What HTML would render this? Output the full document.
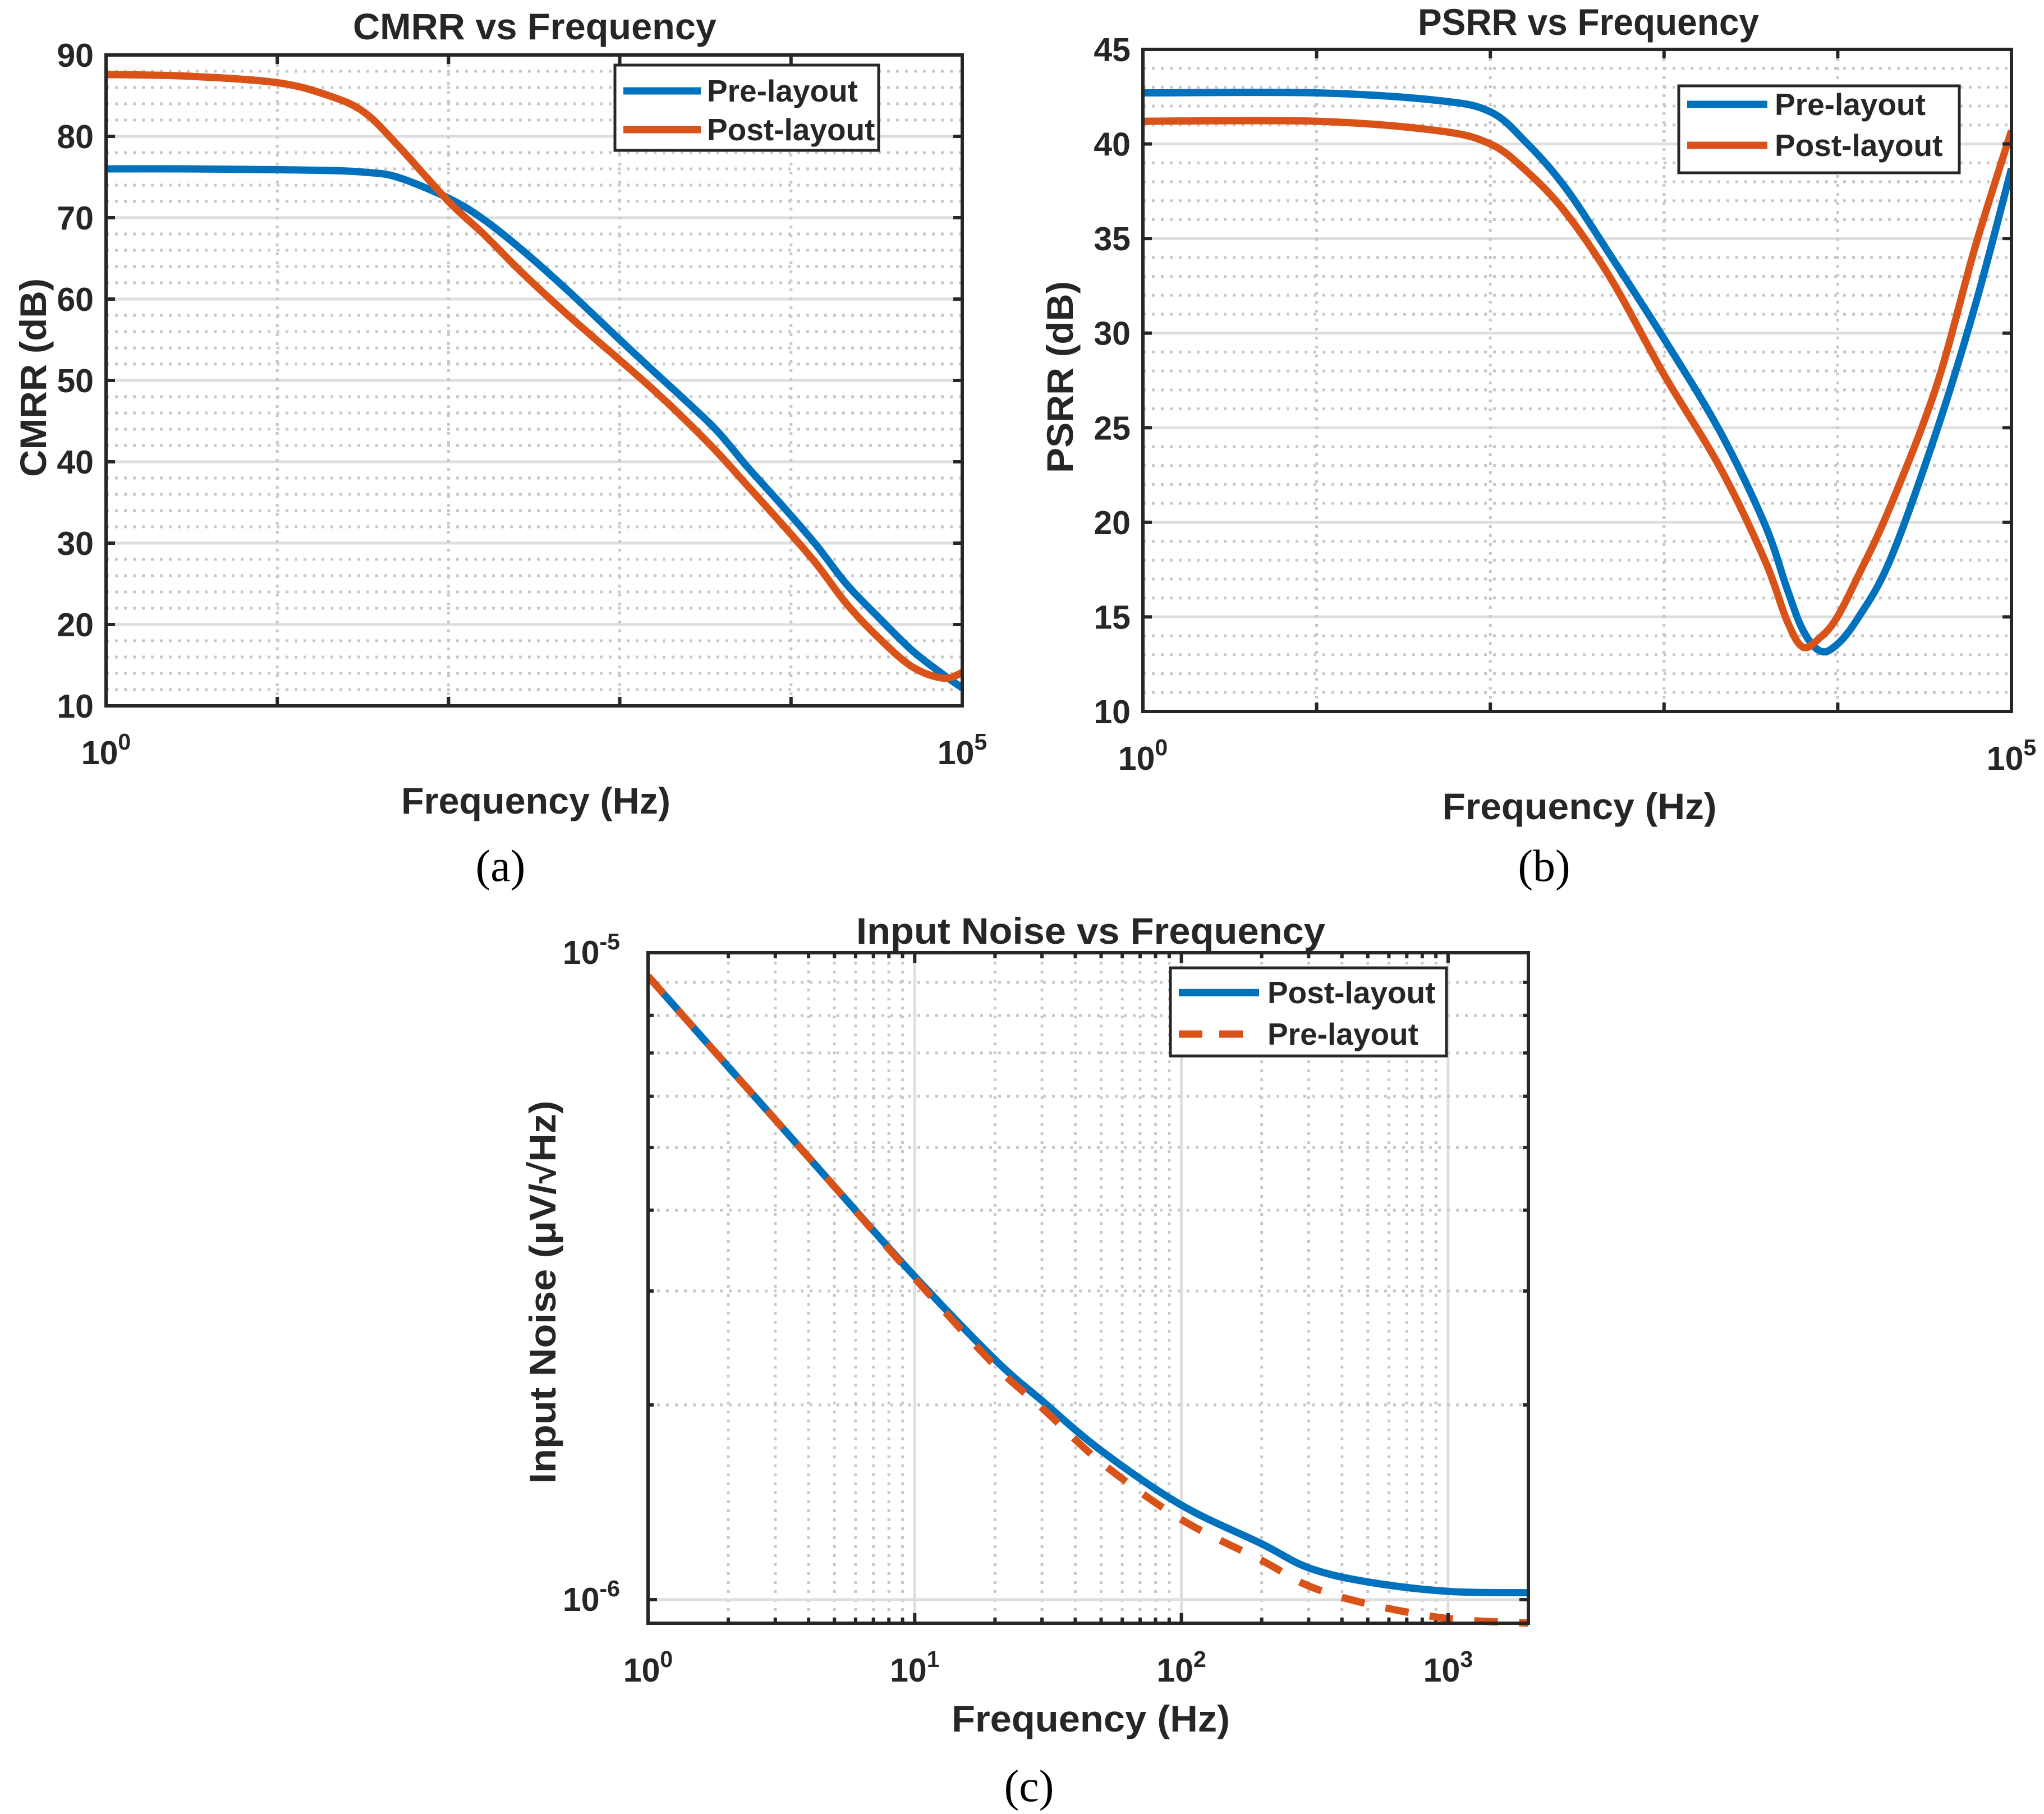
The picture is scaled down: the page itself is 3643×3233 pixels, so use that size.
<!DOCTYPE html>
<html><head><meta charset="utf-8"><style>
html,body{margin:0;padding:0;background:#fff;}
svg{display:block;}
text{font-family:"Liberation Sans",sans-serif;font-weight:bold;fill:#262626;}
.cap{font-family:"Liberation Serif",serif;font-weight:normal;fill:#000;}
</style></head><body>
<svg id="chart" width="3643" height="3233" viewBox="0 0 3643 3233" xmlns="http://www.w3.org/2000/svg"></svg>
<script>
// ---- data: CMRR (a)
const cmrrFreq = [1,3,10,20,32,50,100,160,270,500,1000,1600,2400,3700,5600,8900,14000,21000,32000,51000,78000,100000];
const cmrrPre  = [76,76,75.9,75.8,75.6,75,72.4,69.8,66,61,55,51,47.6,43.8,39.3,34.6,29.8,25,21,16.8,13.8,12.2];
const cmrrPost = [87.6,87.4,86.6,85,83,79,72,68,63.2,58,52.5,48.7,45.2,41.2,37,32.3,27.5,22.6,18.5,14.8,13.4,14.1];
const cmrrYTicks = [10,20,30,40,50,60,70,80,90];
// ---- data: PSRR (b)
const psrrFreq = [1,10,50,100,160,270,500,1000,2100,3800,5100,6300,7900,9800,13000,20000,37000,62000,100000];
const psrrPre  = [42.7,42.7,42.3,41.7,40.1,37.7,34,29.7,24.8,19.9,16.5,14.3,13.2,13.5,14.9,18,24.8,31.5,38.7];
const psrrPost = [41.2,41.2,40.7,40,38.6,36.4,32.8,27.8,22.9,18,14.8,13.4,13.9,14.9,17.1,20.8,27.2,34.6,40.7];
const psrrYTicks = [10,15,20,25,30,35,40,45];
// ---- data: Input noise (c)
const noiseFreq = [1,2,3,5,10,20,30,50,100,200,300,500,1000,2000];
const noisePost = [9.2e-6,6.66e-6,5.52e-6,4.35e-6,3.16e-6,2.35e-6,2.03e-6,1.7e-6,1.4e-6,1.22e-6,1.12e-6,1.065e-6,1.03e-6,1.025e-6];
const noisePre  = [9.2e-6,6.66e-6,5.52e-6,4.35e-6,3.14e-6,2.3e-6,1.98e-6,1.63e-6,1.33e-6,1.15e-6,1.05e-6,0.985e-6,0.935e-6,0.92e-6];

const NS = 'http://www.w3.org/2000/svg';
const svg = document.getElementById('chart');
const BLUE = '#0072BD', ORANGE = '#D95319', AX = '#262626';
function mk(tag, attrs, parent){ const e = document.createElementNS(NS, tag); for (const k in attrs) e.setAttribute(k, attrs[k]); (parent||svg).appendChild(e); return e; }
function txt(s, attrs, parent){ const t = mk('text', attrs, parent); t.textContent = s; return t; }
function pow10(parent, x, y, base, exp, anchor, size){
  const t = mk('text', {x:x, y:y, 'text-anchor':anchor, 'font-size':size}, parent);
  const a = mk('tspan', {}, t); a.textContent = base;
  const b = mk('tspan', {dy:-26, 'font-size':Math.round(size*0.7)}, t); b.textContent = exp;
  return t;
}
function smooth(pts){
  let d = 'M' + pts[0][0] + ',' + pts[0][1];
  for (let i = 0; i < pts.length - 1; i++){
    const p0 = pts[Math.max(0, i-1)], p1 = pts[i], p2 = pts[i+1], p3 = pts[Math.min(pts.length-1, i+2)];
    const c1x = p1[0] + (p2[0]-p0[0])/6, c1y = p1[1] + (p2[1]-p0[1])/6;
    const c2x = p2[0] - (p3[0]-p1[0])/6, c2y = p2[1] - (p3[1]-p1[1])/6;
    d += ' C' + c1x + ',' + c1y + ' ' + c2x + ',' + c2y + ' ' + p2[0] + ',' + p2[1];
  }
  return d;
}

function linAxes(id, L, R, T, B, xDec, yMin, yMax, yTicks, yMinorStep, xs, seriesA, seriesB, names, titleText, ylab, legend, titlePos, xlabPos, ylabPos, capText, capPos, lens){
  const g = mk('g', {});
  
  
  const px = f => L + Math.log10(f) / xDec * (R - L);
  const py = v => B - (v - yMin) / (yMax - yMin) * (B - T);
  for (let v = yMin; v <= yMax + 1e-9; v += yMinorStep){
    if (yTicks.some(t => Math.abs(t - v) < 1e-6)) continue;
    const l = mk('line', {x1:L, x2:R, y1:py(v), y2:py(v), stroke:'#c8c8c8', 'stroke-width':5, 'stroke-dasharray':'5 11'}, g);
    
    
  }
  for (const v of yTicks){
    if (v === yMin || v === yMax) continue;
    const l = mk('line', {x1:L, x2:R, y1:py(v), y2:py(v), stroke:'#dedede', 'stroke-width':5}, g);
    
    
  }
  for (let d = 1; d < xDec; d++){
    const x = px(Math.pow(10, d));
    const l = mk('line', {x1:x, x2:x, y1:T, y2:B, stroke:'#c8c8c8', 'stroke-width':5, 'stroke-dasharray':'5 11'}, g);
    
    
  }
  const cp = mk('clipPath', {id:'clip-' + id}, g);
  mk('rect', {x:L, y:T, width:R - L, height:B - T}, cp);
  const sA = mk('path', {d: smooth(xs.map((f,i) => [px(f), py(seriesA[i])])), fill:'none', stroke:BLUE, 'stroke-width':13, 'stroke-linejoin':'round', 'clip-path':'url(#clip-' + id + ')'}, g);
  
  
  const sB = mk('path', {d: smooth(xs.map((f,i) => [px(f), py(seriesB[i])])), fill:'none', stroke:ORANGE, 'stroke-width':13, 'stroke-linejoin':'round', 'clip-path':'url(#clip-' + id + ')'}, g);
  
  
  for (const v of yTicks){
    const y = py(v);
    mk('line', {x1:L, x2:L + 16, y1:y, y2:y, stroke:AX, 'stroke-width':6}, g);
    mk('line', {x1:R - 16, x2:R, y1:y, y2:y, stroke:AX, 'stroke-width':6}, g);
    const t = txt(String(v), {x:L - 22, y:y + 21, 'text-anchor':'end', 'font-size':59}, g);
    
    
  }
  for (let d = 0; d <= xDec; d++){
    const x = px(Math.pow(10, d));
    mk('line', {x1:x, x2:x, y1:B, y2:B - 16, stroke:AX, 'stroke-width':6}, g);
    mk('line', {x1:x, x2:x, y1:T, y2:T + 16, stroke:AX, 'stroke-width':6}, g);
  }
  const t0 = pow10(g, L, B + 104, '10', '0', 'middle', 59);
  
  
  const t1 = pow10(g, R, B + 104, '10', String(xDec), 'middle', 59);
  
  
  const box = mk('rect', {x:L, y:T, width:R - L, height:B - T, fill:'none', stroke:AX, 'stroke-width':6}, g);
  
  
  const ti = txt(titleText, {x:titlePos[0], y:titlePos[1], 'text-anchor':'middle', 'font-size':66, textLength:lens[0], lengthAdjust:'spacingAndGlyphs'}, g);
  
  
  const xl = txt('Frequency (Hz)', {x:xlabPos[0], y:xlabPos[1], 'text-anchor':'middle', 'font-size':66, textLength:lens[1], lengthAdjust:'spacingAndGlyphs'}, g);
  
  
  const yl = txt(ylab, {x:0, y:0, 'text-anchor':'middle', 'font-size':66, textLength:lens[2], lengthAdjust:'spacingAndGlyphs', transform:'translate(' + ylabPos[0] + ',' + ylabPos[1] + ') rotate(-90)'}, g);
  
  
  const cap = txt(capText, {x:capPos[0], y:capPos[1], 'text-anchor':'middle', 'font-size':80, class:'cap'}, g);
  
  
  const lg = mk('g', {}, g);
  
  
  mk('rect', {x:legend.x, y:legend.y, width:legend.w, height:legend.h, fill:'#fff', stroke:AX, 'stroke-width':5}, lg);
  mk('line', {x1:legend.lx1, x2:legend.lx2, y1:legend.r1, y2:legend.r1, stroke:BLUE, 'stroke-width':13}, lg);
  mk('line', {x1:legend.lx1, x2:legend.lx2, y1:legend.r2, y2:legend.r2, stroke:ORANGE, 'stroke-width':13}, lg);
  const e1 = txt(legend.t1, {x:legend.tx, y:legend.r1 + 19, 'font-size':55, fill:'#000'}, lg);
  
  
  const e2 = txt(legend.t2, {x:legend.tx, y:legend.r2 + 19, 'font-size':55, fill:'#000'}, lg);
  
  
}

linAxes('cmrr', 189, 1715, 98, 1258, 5, 10, 90, cmrrYTicks, 2, cmrrFreq, cmrrPre, cmrrPost, ['pre-layout','post-layout'],
  'CMRR vs Frequency', 'CMRR (dB)',
  {x:1096, y:116, w:470, h:152, lx1:1111, lx2:1249, r1:162, r2:231, tx:1260, t1:'Pre-layout', t2:'Post-layout'},
  [953, 70], [955, 1450], [82, 673], '(a)', [892, 1570], [648, 480, 354]);

linAxes('psrr', 2037, 3585, 88, 1268, 5, 10, 45, psrrYTicks, 1, psrrFreq, psrrPre, psrrPost, ['pre-layout','post-layout'],
  'PSRR vs Frequency', 'PSRR (dB)',
  {x:2992, y:153, w:500, h:155, lx1:3007, lx2:3150, r1:186, r2:259, tx:3163, t1:'Pre-layout', t2:'Post-layout'},
  [2831, 62], [2815, 1460], [1912, 672], '(b)', [2752, 1570], [608, 489, 342]);

// ---- panel (c), log-log
(function(){
  const L = 1155, R = 2724, T = 1698, B = 2893;
  const X0 = 1155, XDEC = 475.3, Y6 = 2851, YDEC = 1153;
  const px = f => X0 + Math.log10(f) * XDEC;
  const py = v => Y6 - (Math.log10(v) + 6) * YDEC;
  const g = mk('g', {});
  
  
  for (let d = 0; d < 4; d++){
    for (let m = 2; m <= 9; m++){
      const f = m * Math.pow(10, d); const x = px(f);
      if (x > R) continue;
      const l = mk('line', {x1:x, x2:x, y1:T, y2:B, stroke:'#c8c8c8', 'stroke-width':5, 'stroke-dasharray':'5 11'}, g);
      
      
      mk('line', {x1:x, x2:x, y1:B, y2:B - 10, stroke:AX, 'stroke-width':6}, g);
      mk('line', {x1:x, x2:x, y1:T, y2:T + 10, stroke:AX, 'stroke-width':6}, g);
    }
  }
  for (let d = 1; d <= 3; d++){
    const x = px(Math.pow(10, d));
    const l = mk('line', {x1:x, x2:x, y1:T, y2:B, stroke:'#dedede', 'stroke-width':5}, g);
    
    
  }
  for (let m = 2; m <= 9; m++){
    const y = py(m * 1e-6);
    const l = mk('line', {x1:L, x2:R, y1:y, y2:y, stroke:'#c8c8c8', 'stroke-width':5, 'stroke-dasharray':'5 11'}, g);
    
    
    mk('line', {x1:L, x2:L + 10, y1:y, y2:y, stroke:AX, 'stroke-width':6}, g);
    mk('line', {x1:R - 10, x2:R, y1:y, y2:y, stroke:AX, 'stroke-width':6}, g);
  }
  const gl = mk('line', {x1:L, x2:R, y1:py(1e-6), y2:py(1e-6), stroke:'#dedede', 'stroke-width':5}, g);
  
  
  mk('line', {x1:L, x2:L + 16, y1:py(1e-6), y2:py(1e-6), stroke:AX, 'stroke-width':6}, g);
  mk('line', {x1:R - 16, x2:R, y1:py(1e-6), y2:py(1e-6), stroke:AX, 'stroke-width':6}, g);
  const cp = mk('clipPath', {id:'clip-noise'}, g);
  mk('rect', {x:L, y:T, width:R - L, height:B - T + 8}, cp);
  const s1 = mk('path', {d: smooth(noiseFreq.map((f,i) => [px(f), py(noisePost[i])])), fill:'none', stroke:BLUE, 'stroke-width':13, 'stroke-linejoin':'round', 'clip-path':'url(#clip-noise)'}, g);
  
  
  const s2 = mk('path', {d: smooth(noiseFreq.map((f,i) => [px(f), py(noisePre[i])])), fill:'none', stroke:ORANGE, 'stroke-width':13, 'stroke-dasharray':'42 38', 'clip-path':'url(#clip-noise)'}, g);
  
  
  for (let d = 0; d <= 3; d++){
    const x = px(Math.pow(10, d));
    mk('line', {x1:x, x2:x, y1:B, y2:B - 18, stroke:AX, 'stroke-width':6}, g);
    mk('line', {x1:x, x2:x, y1:T, y2:T + 18, stroke:AX, 'stroke-width':6}, g);
    const t = pow10(g, x, B + 104, '10', String(d), 'middle', 59);
    
    
  }
  const yt1 = pow10(g, L - 50, T + 20, '10', '-5', 'end', 59);
  
  
  const yt2 = pow10(g, L - 50, py(1e-6) + 20, '10', '-6', 'end', 59);
  
  
  const box = mk('rect', {x:L, y:T, width:R - L, height:B - T, fill:'none', stroke:AX, 'stroke-width':6}, g);
  
  
  const ti = txt('Input Noise vs Frequency', {x:1944, y:1682, 'text-anchor':'middle', 'font-size':66, textLength:836, lengthAdjust:'spacingAndGlyphs'}, g);
  
  
  const xl = txt('Frequency (Hz)', {x:1944, y:3086, 'text-anchor':'middle', 'font-size':66, textLength:496, lengthAdjust:'spacingAndGlyphs'}, g);
  
  
  const yl = txt('Input Noise (μV/√Hz)', {x:0, y:0, 'text-anchor':'middle', 'font-size':66, textLength:683, lengthAdjust:'spacingAndGlyphs', transform:'translate(990,2303) rotate(-90)'}, g);
  
  
  const cap = txt('(c)', {x:1834, y:3210, 'text-anchor':'middle', 'font-size':80, class:'cap'}, g);
  
  
  const lg = mk('g', {}, g);
  
  
  mk('rect', {x:2086, y:1725, width:492, height:157, fill:'#fff', stroke:AX, 'stroke-width':5}, lg);
  mk('line', {x1:2101, x2:2244, y1:1769, y2:1769, stroke:BLUE, 'stroke-width':13}, lg);
  mk('line', {x1:2101, x2:2244, y1:1843, y2:1843, stroke:ORANGE, 'stroke-width':13, 'stroke-dasharray':'42 30'}, lg);
  const e1 = txt('Post-layout', {x:2259, y:1788, 'font-size':55, fill:'#000'}, lg);
  
  
  const e2 = txt('Pre-layout', {x:2259, y:1862, 'font-size':55, fill:'#000'}, lg);
  
  
})();
</script>
</body></html>
